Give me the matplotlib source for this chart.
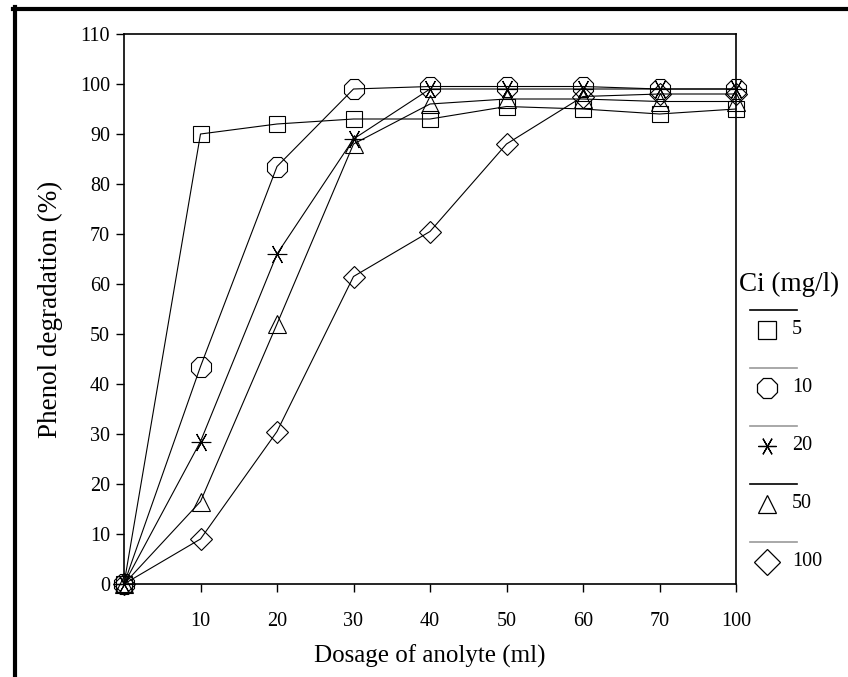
import matplotlib
matplotlib.use("Agg")
import matplotlib.pyplot as plt
from matplotlib.lines import Line2D

plt.rcParams['font.family'] = ['Liberation Serif', 'DejaVu Serif']

# Data
dosage_labels = ["0", "10", "20", "30", "40", "50", "60", "70", "100"]
ci_labels = ["5", "10", "20", "50", "100"]
deg_5 = [0, 90, 92, 93, 93, 95.5, 95, 94, 95]
deg_10 = [0, 43.5, 83.5, 99, 99.5, 99.5, 99.5, 99, 99]
deg_20 = [0, 28.5, 66, 89, 99, 99, 99, 99, 99]
deg_50 = [0, 16.5, 52, 88, 96, 97, 97, 96.5, 96.5]
deg_100 = [0, 9, 30.5, 61.5, 70.5, 88, 97.5, 98, 98]

series = [deg_5, deg_10, deg_20, deg_50, deg_100]
markers = ['s', '8', (6, 2, 90), '^', 'D']
msizes = [11, 16, 14, 13, 11]
legend_line_colors = ['black', '#999999', '#999999', 'black', '#999999']

W, H = 848, 677
fig = plt.figure(figsize=(W / 100, H / 100), dpi=100)

def fx(px):
    return px / W

def fy(py):
    return 1 - py / H

ax = fig.add_axes([fx(124), fy(584), fx(736) - fx(124), fy(34) - fy(584)])

xpos = list(range(len(dosage_labels)))
for vals, mk, ms in zip(series, markers, msizes):
    ax.plot(xpos, vals, color='black', lw=0.8, marker=mk, ms=ms,
            mfc='none', mec='black', mew=0.8, clip_on=False, zorder=3)

ax.set_xlim(0, len(dosage_labels) - 1)
ax.set_ylim(0, 110)
ax.set_xticks(xpos[1:])
ax.set_xticklabels(dosage_labels[1:])
ax.set_yticks(range(0, 111, 10))
ax.tick_params(direction='out', length=6, width=1, labelsize=14.5)
ax.tick_params(axis='x', pad=14)
ax.tick_params(axis='y', pad=4)
for s in ax.spines.values():
    s.set_linewidth(1.2)

ax.set_xlabel("Dosage of anolyte (ml)", fontsize=18, labelpad=10)
ax.set_ylabel("Phenol degradation (%)", fontsize=19.5, labelpad=12)

# Legend (manual layout: line sample above marker + label)
fig.text(fx(739), fy(284), "Ci (mg/l)", fontsize=19.5, ha='left', va='center')
line_y = [310, 368, 426, 484, 542]
for i, (lab, mk, col) in enumerate(zip(ci_labels, markers, legend_line_colors)):
    ly = line_y[i]
    fig.add_artist(Line2D([fx(750), fx(797)], [fy(ly), fy(ly)],
                          transform=fig.transFigure, color=col, lw=1.2))
    my = ly + 20
    fig.add_artist(Line2D([fx(767)], [fy(my)], transform=fig.transFigure,
                          marker=mk, ms=13 if mk != '8' else 16, mfc='none',
                          mec='black', mew=0.9, ls='none'))
    fig.text(fx(792), fy(my), lab, fontsize=14.5, ha='left', va='center')

# Frame (top and left borders)
fig.add_artist(Line2D([fx(13), fx(848)], [fy(8.5), fy(8.5)],
                      transform=fig.transFigure, color='black', lw=3))
fig.add_artist(Line2D([fx(14.5), fx(14.5)], [fy(7), fy(677)],
                      transform=fig.transFigure, color='black', lw=3))

fig.savefig("out.png", dpi=100)
